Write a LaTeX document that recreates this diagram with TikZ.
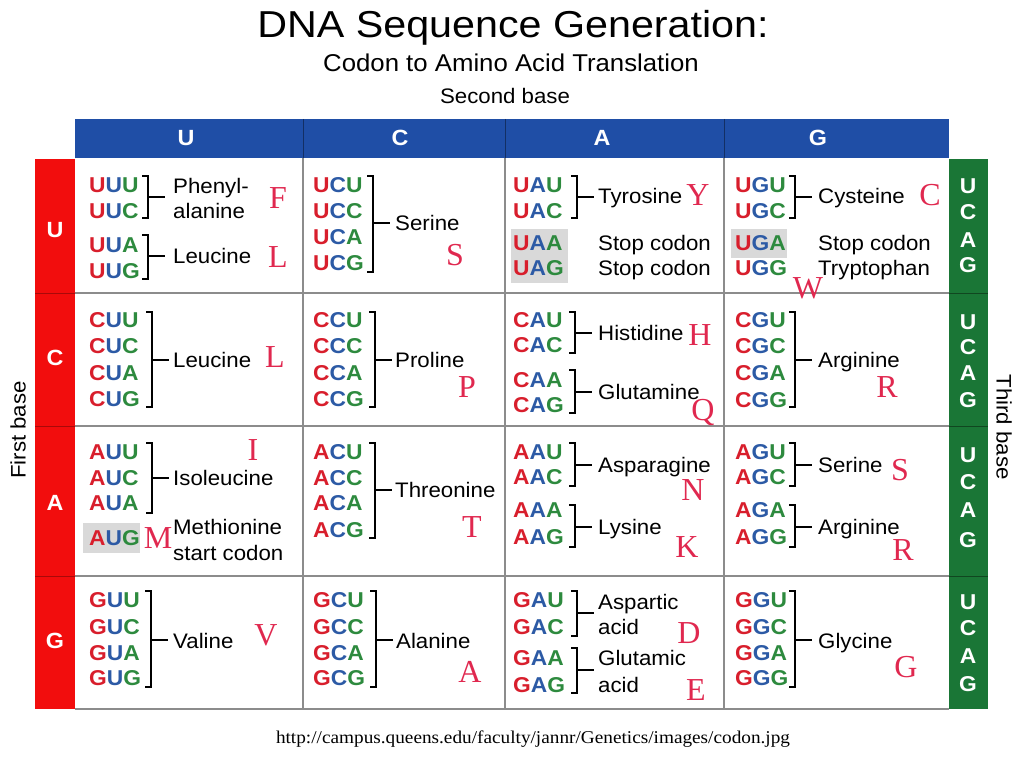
\documentclass[tikz,border=0pt]{standalone}
\usepackage{fontspec}
\setmainfont{Liberation Sans}[FakeStretch=1.06]
\newfontfamily\titlefont{Liberation Sans}[FakeStretch=1.1]
\newfontfamily\serifred{Liberation Serif}
\newfontfamily\urlfont{Liberation Serif}[FakeStretch=1.07]
\definecolor{cr}{HTML}{D81E2C}
\definecolor{cb}{HTML}{2C5AA5}
\definecolor{cg}{HTML}{2D8A3E}
\definecolor{barblue}{HTML}{1F4EA6}
\definecolor{barred}{HTML}{F20D0D}
\definecolor{bargreen}{HTML}{1A7636}
\definecolor{lettred}{HTML}{E0284F}
\definecolor{gridgray}{HTML}{8C8C8C}
\definecolor{stopgray}{HTML}{D9D9D9}
\newcommand\cd[3]{\textcolor{cr}{#1}\textcolor{cb}{#2}\textcolor{cg}{#3}}
\newcommand\brk[4]{\draw[brkline] ({#1-6},#2) -- (#1,#2) -- (#1,#3) -- ({#1-6},#3) (#1,#4) -- ({#1+17},#4);}
\tikzset{
  codon/.style={inner sep=0pt, anchor=west, text height=15.4pt, text depth=0pt, font=\fontsize{21.5}{21.5}\selectfont\bfseries},
  lbl/.style={inner sep=0pt, anchor=west, text height=15pt, text depth=0pt, font=\fontsize{21}{21}\selectfont},
  aa/.style={inner sep=0pt, text height=21pt, text depth=0pt, text=lettred, font=\fontsize{32}{32}\selectfont\serifred},
  hdr/.style={text=white, inner sep=0pt, text height=16pt, text depth=0pt, font=\fontsize{22}{22}\selectfont\bfseries},
  side/.style={text=white, inner sep=0pt, text height=15pt, text depth=0pt, font=\fontsize{21.5}{21.5}\selectfont\bfseries},
  axislbl/.style={inner sep=0pt, font=\fontsize{21}{21}\selectfont},
  brkline/.style={line width=1.8pt, black},
  gridline/.style={draw=gridgray, line width=1.4pt}
}
\begin{document}
\begin{tikzpicture}[x=1pt,y=-1pt]
\useasboundingbox (0,0) rectangle (1023,767);
% titles
\node[anchor=base, inner sep=0pt, font=\fontsize{37.5}{37.5}\selectfont\titlefont] (title) at (513,38) {DNA Sequence Generation:};
\node[anchor=base, inner sep=0pt, font=\fontsize{24.3}{24.3}\selectfont] (subtitle) at (511,72) {Codon to Amino Acid Translation};
\node[anchor=base, inner sep=0pt, font=\fontsize{21}{21}\selectfont] (second) at (505,104) {Second base};
% bars
\fill[barblue] (75,119) rectangle (949,158);
\fill[barred] (35,159) rectangle (75,709);
\fill[bargreen] (949,159) rectangle (988,709);
\foreach \xx in {303,505,724} \draw[barblue!60!black, line width=0.8pt] (\xx,119) -- (\xx,158);
\foreach \yy in {293,426,576} \draw[bargreen!60!black, line width=0.8pt] (949,\yy) -- (988,\yy);
\foreach \yy in {293,426,576} \draw[barred!70!black, line width=0.6pt] (35,\yy) -- (75,\yy);
% grid
\foreach \xx in {303,505,724} \draw[gridline] (\xx,158) -- (\xx,709);
\foreach \yy in {293,426,576,709} \draw[gridline] (75,\yy) -- (949,\yy);
% header letters
\node[hdr] (hU) at (186,138) {U};
\node[hdr] (hC) at (400,138) {C};
\node[hdr] (hA) at (602,138) {A};
\node[hdr] (hG) at (818,138) {G};
\node[hdr] (rU) at (55,230) {U};
\node[hdr] (rC) at (55,358) {C};
\node[hdr] (rA) at (55,502) {A};
\node[hdr] (rG) at (55,640) {G};
% third base letters
\foreach \r/\a/\b/\c/\d in {1/186/212/240/265, 2/322/347/373/400, 3/455/482/510/540, 4/602/628/656/684}{
  \node[side] (tU\r) at (968,\a) {U};
  \node[side] (tC\r) at (968,\b) {C};
  \node[side] (tA\r) at (968,\c) {A};
  \node[side] (tG\r) at (968,\d) {G};
}
\node[axislbl, rotate=90] (first) at (18,430) {First base};
\node[axislbl, rotate=-90] (third) at (1004,427) {Third base};
% ---- Row U ----
\node[codon] (uuu) at (89,185) {\cd UUU};
\node[codon] (uuc) at (89,211) {\cd UUC};
\node[codon] (uua) at (89,245) {\cd UUA};
\node[codon] (uug) at (89,271) {\cd UUG};
\brk{148}{176}{218}{197}
\node[lbl] (phe1) at (173,186) {Phenyl-};
\node[lbl] (phe2) at (173,211) {alanine};
\node[aa] (aF) at (278,198) {F};
\brk{148}{235}{279}{256}
\node[lbl] (leu1) at (173,256) {Leucine};
\node[aa] (aL1) at (278,257) {L};
\node[codon] (ucu) at (313,185) {\cd UCU};
\node[codon] (ucc) at (313,211) {\cd UCC};
\node[codon] (uca) at (313,237) {\cd UCA};
\node[codon] (ucg) at (313,263) {\cd UCG};
\brk{373}{176}{272}{223}
\node[lbl] (ser1) at (395,223) {Serine};
\node[aa] (aS1) at (455,255) {S};
\node[codon] (uau) at (513,185) {\cd UAU};
\node[codon] (uac) at (513,211) {\cd UAC};
\brk{577}{176}{218}{197}
\node[lbl] (tyr) at (598,196) {Tyrosine};
\node[aa] (aY) at (698,195) {Y};
\fill[stopgray] (511,229) rectangle (568,283);
\node[codon] (uaa) at (513,243) {\cd UAA};
\node[codon] (uag) at (513,268) {\cd UAG};
\node[lbl] (stop1) at (598,243) {Stop codon};
\node[lbl] (stop2) at (598,268) {Stop codon};
\node[codon] (ugu) at (735,185) {\cd UGU};
\node[codon] (ugc) at (735,211) {\cd UGC};
\brk{795}{176}{218}{197}
\node[lbl] (cys) at (818,196) {Cysteine};
\node[aa] (aC) at (930,195) {C};
\fill[stopgray] (731,229) rectangle (787,258);
\node[codon] (uga) at (735,243) {\cd UGA};
\node[codon] (ugg) at (735,268) {\cd UGG};
\node[lbl] (stop3) at (818,243) {Stop codon};
\node[lbl] (trp) at (818,268) {Tryptophan};
\node[aa] (aW) at (808,288) {W};
% ---- Row C ----
\node[codon] (cuu) at (89,320) {\cd CUU};
\node[codon] (cuc) at (89,346) {\cd CUC};
\node[codon] (cua) at (89,373) {\cd CUA};
\node[codon] (cug) at (89,399) {\cd CUG};
\brk{152}{312}{407}{360}
\node[lbl] (leu2) at (173,360) {Leucine};
\node[aa] (aL2) at (275,357) {L};
\node[codon] (ccu) at (313,320) {\cd CCU};
\node[codon] (ccc) at (313,346) {\cd CCC};
\node[codon] (cca) at (313,373) {\cd CCA};
\node[codon] (ccg) at (313,399) {\cd CCG};
\brk{375}{312}{407}{360}
\node[lbl] (pro) at (395,360) {Proline};
\node[aa] (aP) at (467,387) {P};
\node[codon] (cau) at (513,320) {\cd CAU};
\node[codon] (cac) at (513,345) {\cd CAC};
\brk{575}{312}{353}{333}
\node[lbl] (his) at (598,333) {Histidine};
\node[aa] (aH) at (700,335) {H};
\node[codon] (caa) at (513,380) {\cd CAA};
\node[codon] (cag) at (513,405) {\cd CAG};
\brk{575}{370}{413}{392}
\node[lbl] (gln) at (598,392) {Glutamine};
\node[aa] (aQ) at (703,410) {Q};
\node[codon] (cgu) at (735,320) {\cd CGU};
\node[codon] (cgc) at (735,346) {\cd CGC};
\node[codon] (cga) at (735,373) {\cd CGA};
\node[codon] (cgg) at (735,400) {\cd CGG};
\brk{795}{312}{407}{360}
\node[lbl] (arg1) at (818,360) {Arginine};
\node[aa] (aR1) at (887,387) {R};
% ---- Row A ----
\node[codon] (auu) at (89,452) {\cd AUU};
\node[codon] (auc) at (89,478) {\cd AUC};
\node[codon] (aua) at (89,503) {\cd AUA};
\brk{152}{443}{513}{478}
\node[lbl] (ile) at (173,478) {Isoleucine};
\node[aa] (aI) at (253,450) {I};
\fill[stopgray] (83,523) rectangle (140,553);
\node[codon] (aug) at (89,538) {\cd AUG};
\node[aa] (aM) at (158,538) {M};
\node[lbl] (met1) at (173,527) {Methionine};
\node[lbl] (met2) at (173,553) {start codon};
\node[codon] (acu) at (313,452) {\cd ACU};
\node[codon] (acc) at (313,478) {\cd ACC};
\node[codon] (aca) at (313,503) {\cd ACA};
\node[codon] (acg) at (313,530) {\cd ACG};
\brk{375}{443}{538}{490}
\node[lbl] (thr) at (395,490) {Threonine};
\node[aa] (aT) at (472,527) {T};
\node[codon] (aau) at (513,452) {\cd AAU};
\node[codon] (aac) at (513,477) {\cd AAC};
\brk{575}{443}{486}{465}
\node[lbl] (asn) at (598,465) {Asparagine};
\node[aa] (aN) at (693,490) {N};
\node[codon] (aaa) at (513,510) {\cd AAA};
\node[codon] (aag) at (513,537) {\cd AAG};
\brk{575}{505}{547}{527}
\node[lbl] (lys) at (598,527) {Lysine};
\node[aa] (aK) at (687,547) {K};
\node[codon] (agu) at (735,452) {\cd AGU};
\node[codon] (agc) at (735,477) {\cd AGC};
\brk{795}{443}{486}{465}
\node[lbl] (ser2) at (818,465) {Serine};
\node[aa] (aS2) at (900,470) {S};
\node[codon] (aga) at (735,510) {\cd AGA};
\node[codon] (agg) at (735,537) {\cd AGG};
\brk{795}{505}{547}{527}
\node[lbl] (arg2) at (818,527) {Arginine};
\node[aa] (aR2) at (903,550) {R};
% ---- Row G ----
\node[codon] (guu) at (89,600) {\cd GUU};
\node[codon] (guc) at (89,627) {\cd GUC};
\node[codon] (gua) at (89,653) {\cd GUA};
\node[codon] (gug) at (89,678) {\cd GUG};
\brk{151}{591}{687}{640}
\node[lbl] (val) at (173,641) {Valine};
\node[aa] (aV) at (266,635) {V};
\node[codon] (gcu) at (313,600) {\cd GCU};
\node[codon] (gcc) at (313,627) {\cd GCC};
\node[codon] (gca) at (313,653) {\cd GCA};
\node[codon] (gcg) at (313,678) {\cd GCG};
\brk{376}{591}{687}{640}
\node[lbl] (ala) at (396,641) {Alanine};
\node[aa] (aA) at (470,672) {A};
\node[codon] (gau) at (513,600) {\cd GAU};
\node[codon] (gac) at (513,627) {\cd GAC};
\brk{577}{591}{636}{613}
\node[lbl] (asp1) at (598,602) {Aspartic};
\node[lbl] (asp2) at (598,627) {acid};
\node[aa] (aD) at (689,633) {D};
\node[codon] (gaa) at (513,658) {\cd GAA};
\node[codon] (gag) at (513,685) {\cd GAG};
\brk{577}{648}{693}{670}
\node[lbl] (glu1) at (598,658) {Glutamic};
\node[lbl] (glu2) at (598,685) {acid};
\node[aa] (aE) at (696,690) {E};
\node[codon] (ggu) at (735,600) {\cd GGU};
\node[codon] (ggc) at (735,627) {\cd GGC};
\node[codon] (gga) at (735,653) {\cd GGA};
\node[codon] (ggg) at (735,678) {\cd GGG};
\brk{795}{591}{687}{640}
\node[lbl] (gly) at (818,641) {Glycine};
\node[aa] (aG) at (906,667) {G};
% url
\node[anchor=base, inner sep=0pt, font=\fontsize{18}{18}\selectfont\urlfont] (url) at (533,743) {http://campus.queens.edu/faculty/jannr/Genetics/images/codon.jpg};
\end{tikzpicture}
\end{document}
